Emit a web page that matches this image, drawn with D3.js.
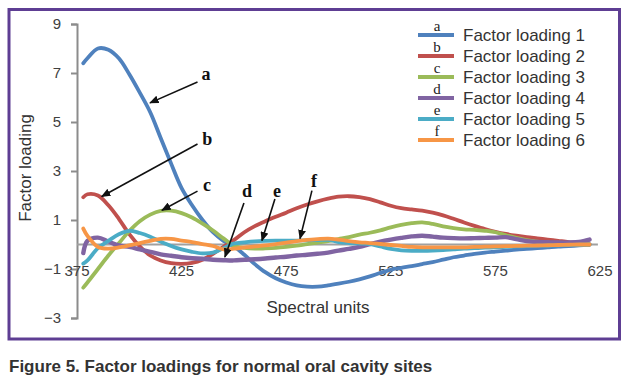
<!DOCTYPE html>
<html>
<head>
<meta charset="utf-8">
<script src="https://cdn.jsdelivr.net/npm/d3@7"></script>
<style>
  body { margin: 0; background: #fff; }
  svg { display: block; }
</style>
</head>
<body>
<div class="chart"></div>
<script>
// spectral units (x values shared by all series)
var xs = [378, 380, 385, 390, 395, 400, 405, 410, 415, 420, 425, 430, 435, 440, 445, 450,
  455, 460, 465, 470, 475, 480, 485, 490, 495, 500, 505, 510, 515, 520, 525, 530, 535,
  540, 545, 550, 555, 560, 565, 570, 575, 580, 585, 590, 595, 600, 605, 610, 615, 620];

var loading1 = [7.4, 7.6, 8.0, 7.95, 7.6, 6.95, 6.2, 5.4, 4.35, 3.3, 2.3, 1.6, 1.0, 0.5, 0.15, -0.08,
  -0.42, -0.8, -1.13, -1.38, -1.55, -1.67, -1.72, -1.72, -1.67, -1.6, -1.52, -1.42, -1.3, -1.16, -1.03, -0.95, -0.88,
  -0.8, -0.72, -0.62, -0.52, -0.45, -0.38, -0.33, -0.29, -0.25, -0.21, -0.18, -0.15, -0.12, -0.09, -0.07, -0.04, 0];

var loading2 = [1.93, 2.05, 2.0, 1.6, 1.05, 0.42, -0.08, -0.45, -0.65, -0.76, -0.79, -0.75, -0.62, -0.38, -0.1, 0.18,
  0.5, 0.75, 0.95, 1.13, 1.3, 1.48, 1.63, 1.76, 1.87, 1.95, 1.97, 1.93, 1.85, 1.72, 1.58, 1.48, 1.43,
  1.38, 1.3, 1.19, 1.05, 0.9, 0.76, 0.63, 0.52, 0.43, 0.36, 0.3, 0.25, 0.2, 0.15, 0.1, 0.06, 0];

var loading3 = [-1.76, -1.55, -1.0, -0.45, 0.05, 0.55, 0.95, 1.22, 1.37, 1.38, 1.28, 1.1, 0.85, 0.57, 0.25, -0.05,
  -0.14, -0.17, -0.16, -0.14, -0.1, -0.05, 0.02, 0.08, 0.14, 0.22, 0.3, 0.4, 0.48, 0.58, 0.7, 0.8, 0.87,
  0.9, 0.84, 0.74, 0.67, 0.62, 0.6, 0.56, 0.5, 0.38, 0.27, 0.18, 0.12, 0.08, 0.05, 0.03, 0.01, 0];

var loading4 = [-0.35, 0.15, 0.28, 0.12, -0.04, -0.1, -0.2, -0.3, -0.4, -0.46, -0.52, -0.56, -0.58, -0.62, -0.64, -0.65,
  -0.62, -0.6, -0.57, -0.53, -0.5, -0.45, -0.42, -0.38, -0.33, -0.25, -0.18, -0.1, 0.02, 0.12, 0.2, 0.27, 0.33,
  0.36, 0.32, 0.28, 0.26, 0.25, 0.26, 0.27, 0.28, 0.3, 0.22, 0.14, 0.1, 0.09, 0.08, 0.08, 0.1, 0.2];

var loading5 = [-0.78, -0.65, -0.15, 0.15, 0.42, 0.56, 0.47, 0.32, 0.12, -0.06, -0.2, -0.3, -0.36, -0.33, -0.15, 0.04,
  0.09, 0.13, 0.15, 0.16, 0.16, 0.16, 0.17, 0.18, 0.19, 0.1, 0.06, 0.04, 0.02, -0.08, -0.18, -0.24, -0.26,
  -0.26, -0.25, -0.23, -0.2, -0.17, -0.15, -0.13, -0.12, -0.1, -0.08, -0.07, -0.05, -0.04, -0.03, -0.02, -0.01, 0];

var loading6 = [0.65, 0.35, -0.1, -0.17, -0.12, -0.04, 0.06, 0.15, 0.23, 0.23, 0.16, 0.1, 0.02, -0.06, -0.2, -0.17,
  -0.12, -0.08, -0.04, 0.02, 0.08, 0.14, 0.19, 0.22, 0.24, 0.2, 0.14, 0.09, 0.06, 0.02, -0.02, -0.06, -0.1,
  -0.12, -0.12, -0.12, -0.12, -0.12, -0.1, -0.09, -0.08, -0.07, -0.06, -0.05, -0.04, -0.03, -0.02, -0.01, 0, 0];

var seriesNames = ['Factor loading 1', 'Factor loading 2', 'Factor loading 3',
  'Factor loading 4', 'Factor loading 5', 'Factor loading 6'];
var seriesLetters = ['a', 'b', 'c', 'd', 'e', 'f'];
var seriesColors = ['#4f81bd', '#c0504d', '#9bbb59', '#8064a2', '#4bacc6', '#f79646'];
var seriesValues = [loading1, loading2, loading3, loading4, loading5, loading6];

var xTicks = [375, 425, 475, 525, 575, 625];
var yTicks = [-3, -1, 1, 3, 5, 7, 9];

// callouts, in data units: letter (lx, baseline ly), arrow start (sx, sy), arrow tip (tx, ty)
var callouts = [
  { letter: 'a', lx: 436.7, ly: 6.71, sx: 432.6, sy: 6.63, tx: 409.9, ty: 5.78 },
  { letter: 'b', lx: 437.3, ly: 4.06, sx: 432.6, sy: 4.1, tx: 386.8, ty: 1.96 },
  { letter: 'c', lx: 437.1, ly: 2.2, sx: 432.6, sy: 2.18, tx: 415.6, ty: 1.4 },
  { letter: 'd', lx: 456.3, ly: 1.94, sx: 454.8, sy: 1.69, tx: 445.7, ty: -0.51 },
  { letter: 'e', lx: 470.6, ly: 1.94, sx: 469.6, sy: 1.86, tx: 463.4, ty: 0.16 },
  { letter: 'f', lx: 488.3, ly: 2.34, sx: 487.3, sy: 2.2, tx: 481.6, ty: 0.24 }
];

var width = 629, height = 384;

var svg = d3.select('.chart').append('svg')
  .attr('width', width)
  .attr('height', height);

// purple frame
svg.append('rect')
  .attr('x', 9).attr('y', 9.5)
  .attr('width', 610.5).attr('height', 329.5)
  .attr('fill', '#fff')
  .attr('stroke', '#5e3e93')
  .attr('stroke-width', 3);

var x = d3.scaleLinear().domain([375, 625]).range([77, 600]);
var y = d3.scaleLinear().domain([-3, 9]).range([318, 24]);

var labelFont = 'Liberation Sans, Arial, sans-serif';

// y axis
var yAxis = svg.append('g')
  .attr('transform', 'translate(' + x(375) + ',0)')
  .call(d3.axisLeft(y).tickValues(yTicks).tickSize(6).tickPadding(10)
    .tickFormat(function (d) { return d < 0 ? '\u2212' + Math.abs(d) : d; }));
yAxis.select('.domain').attr('stroke', '#8c8c8c').attr('stroke-width', 2);
yAxis.selectAll('.tick line').attr('stroke', '#8c8c8c').attr('stroke-width', 2);
yAxis.selectAll('.tick text')
  .attr('fill', '#404040')
  .style('font-family', labelFont)
  .style('font-size', '15px');

// horizontal axis at zero, labels placed below
svg.append('line')
  .attr('x1', x(375)).attr('x2', x(624))
  .attr('y1', y(0)).attr('y2', y(0))
  .attr('stroke', '#a0a0a0')
  .attr('stroke-width', 2);

svg.append('g').selectAll('text')
  .data(xTicks)
  .enter().append('text')
  .attr('x', d => x(d))
  .attr('y', y(0) + 31)
  .attr('text-anchor', 'middle')
  .attr('fill', '#404040')
  .style('font-family', labelFont)
  .style('font-size', '15px')
  .text(d => d);

// axis titles
svg.append('text')
  .attr('x', 318).attr('y', 313)
  .attr('text-anchor', 'middle')
  .attr('fill', '#333')
  .style('font-family', labelFont)
  .style('font-size', '17px')
  .text('Spectral units');

svg.append('text')
  .attr('transform', 'translate(31,168) rotate(-90)')
  .attr('text-anchor', 'middle')
  .attr('fill', '#333')
  .style('font-family', labelFont)
  .style('font-size', '17px')
  .text('Factor loading');

// series lines
var line = d3.line()
  .x((d, i) => x(xs[i]))
  .y(d => y(d))
  .curve(d3.curveCatmullRom);

svg.append('g').selectAll('path')
  .data(seriesValues)
  .enter().append('path')
  .attr('d', d => line(d))
  .attr('fill', 'none')
  .attr('stroke', (d, i) => seriesColors[i])
  .attr('stroke-width', (d, i) => i === 3 ? 4.4 : 3.8)
  .attr('stroke-linejoin', 'round')
  .attr('stroke-linecap', 'round');

// arrow marker
svg.append('defs').append('marker')
  .attr('id', 'arrow')
  .attr('viewBox', '0 0 10 10')
  .attr('refX', 9).attr('refY', 5)
  .attr('markerWidth', 6).attr('markerHeight', 5)
  .attr('markerUnits', 'strokeWidth')
  .attr('orient', 'auto')
  .attr('preserveAspectRatio', 'none')
  .append('path')
  .attr('d', 'M0,0L10,5L0,10Z')
  .attr('fill', '#111');

var call = svg.append('g').selectAll('g')
  .data(callouts)
  .enter().append('g');

call.append('line')
  .attr('x1', d => x(d.sx))
  .attr('y1', d => y(d.sy))
  .attr('x2', d => x(d.tx))
  .attr('y2', d => y(d.ty))
  .attr('stroke', '#111')
  .attr('stroke-width', 1.6)
  .attr('marker-end', 'url(#arrow)');

call.append('text')
  .attr('x', d => x(d.lx))
  .attr('y', d => y(d.ly))
  .attr('text-anchor', 'middle')
  .attr('fill', '#111')
  .style('font-family', 'Liberation Serif, Times New Roman, serif')
  .style('font-weight', 'bold')
  .style('font-size', '18px')
  .text(d => d.letter);

// legend
var legend = svg.append('g').selectAll('g')
  .data(seriesNames)
  .enter().append('g')
  .attr('transform', (d, i) => 'translate(418,' + (35 + i * 21) + ')');

legend.append('line')
  .attr('x1', 0).attr('x2', 36)
  .attr('stroke', (d, i) => seriesColors[i])
  .attr('stroke-width', 3.8);

legend.append('text')
  .attr('x', 19).attr('y', -4)
  .attr('text-anchor', 'middle')
  .attr('fill', '#222')
  .style('font-family', 'Liberation Serif, Times New Roman, serif')
  .style('font-size', '15px')
  .text((d, i) => seriesLetters[i]);

legend.append('text')
  .attr('x', 45).attr('y', 0)
  .attr('dy', '0.33em')
  .attr('fill', '#333')
  .style('font-family', labelFont)
  .style('font-size', '17px')
  .text(d => d);

// caption
svg.append('text')
  .attr('x', 9).attr('y', 372)
  .attr('fill', '#333')
  .style('font-family', labelFont)
  .style('font-weight', 'bold')
  .style('font-size', '17px')
  .text('Figure 5. Factor loadings for normal oral cavity sites');
</script>
</body>
</html>
